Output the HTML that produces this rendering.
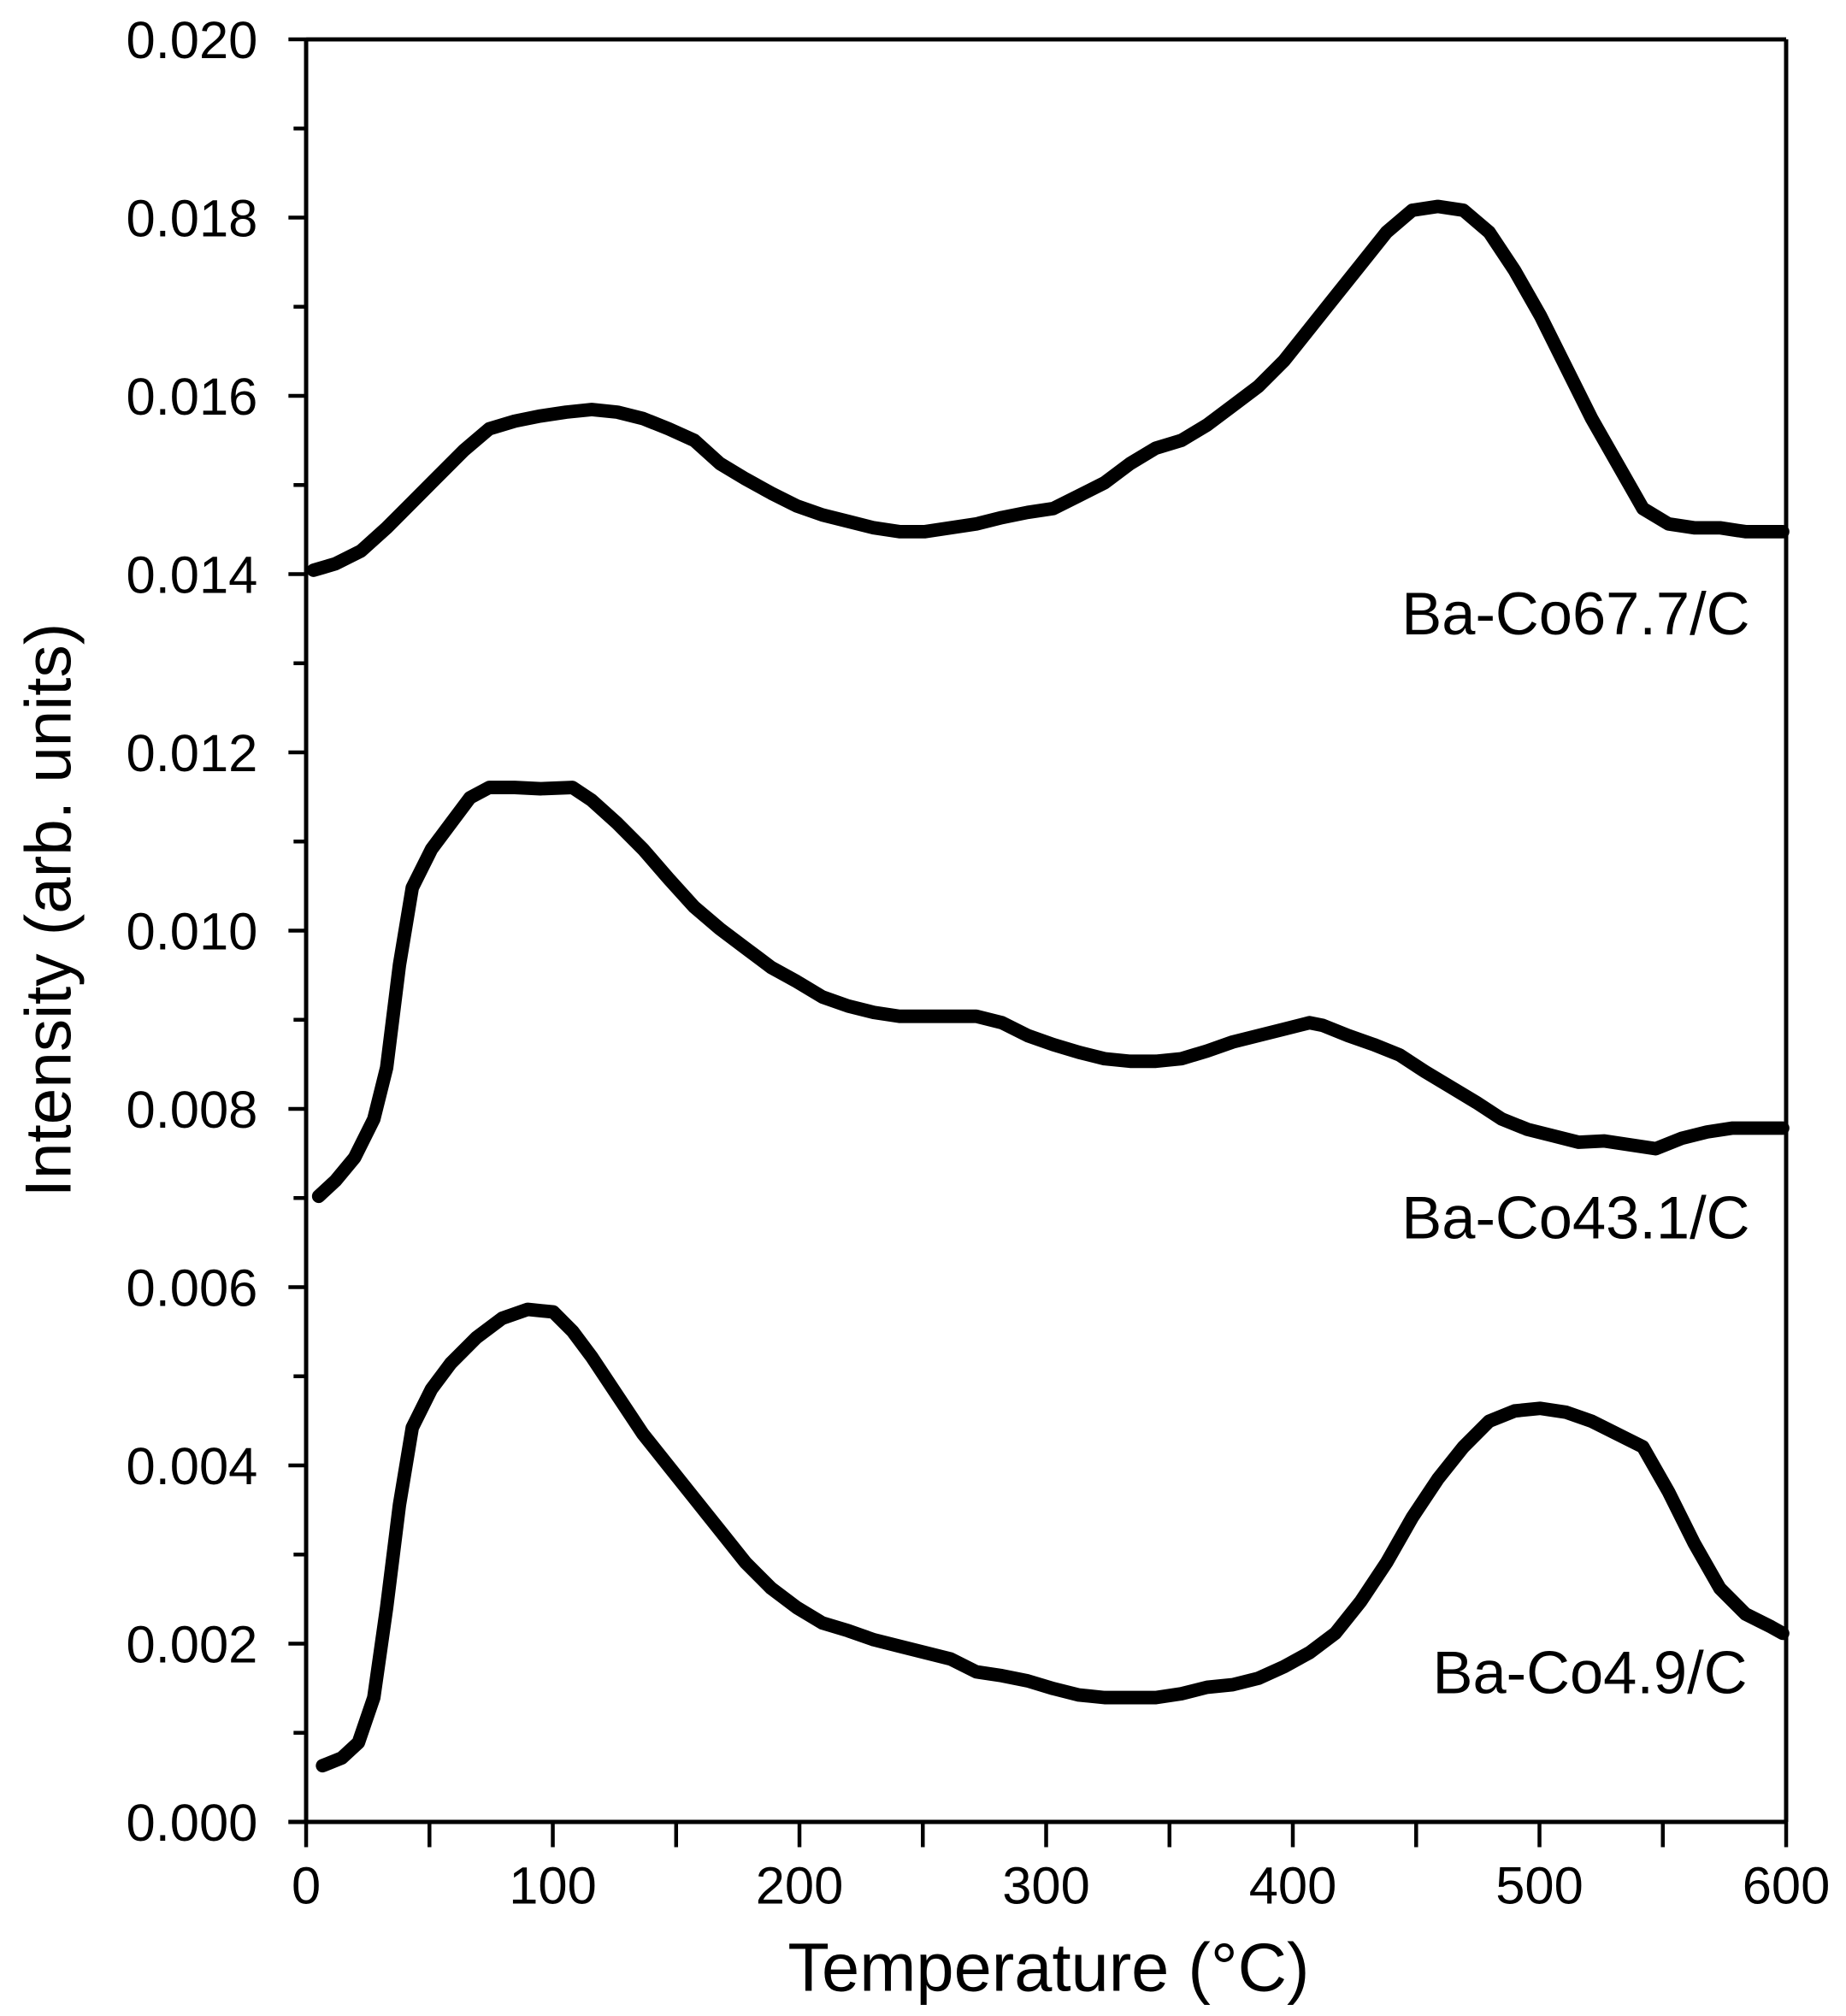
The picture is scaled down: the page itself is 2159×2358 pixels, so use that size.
<!DOCTYPE html>
<html><head><meta charset="utf-8"><style>html,body{margin:0;padding:0;background:#fff}svg{display:block}</style></head>
<body>
<svg xmlns="http://www.w3.org/2000/svg" width="2159" height="2358" viewBox="0 0 1440 1572.7" font-family="Liberation Sans, Arial, sans-serif">
<rect width="1440" height="1572.7" fill="#fff"/>
<g stroke="#000" stroke-width="3.3" fill="none">
<line x1="238.8" y1="30.7" x2="1393.3" y2="30.7"/>
<line x1="238.8" y1="30.7" x2="238.8" y2="1421.3"/>
<line x1="1393.3" y1="30.7" x2="1393.3" y2="1421.3"/>
<line x1="225" y1="1421.3" x2="1393.3" y2="1421.3"/>
</g>
<g stroke="#000" stroke-width="3" id="yt"></g>
<g stroke="#000" stroke-width="3" id="xt"></g>
<g font-size="41" text-anchor="end" id="yl"></g>
<g font-size="41" text-anchor="middle" id="xl"></g>
<text x="818" y="1553" font-size="53" text-anchor="middle">Temperature (°C)</text>
<text transform="translate(55,710) rotate(-90)" font-size="51" text-anchor="middle">Intensity (arb. units)</text>
<g transform="translate(1.6,0.6) scale(1,1.0028)">
<g fill="none" stroke="#000" stroke-width="10.5" stroke-linejoin="round" stroke-linecap="round">
<polyline points="243,443 260,438 280,428 300,410 320,390 340,370 360,350 380,333 400,327 420,323 440,320 460,318 480,320 500,325 520,333 540,342 560,360 580,372 600,383 620,393 640,400 660,405 680,410 700,413 720,413 740,410 760,407 780,402 800,398 820,395 840,385 860,375 880,360 900,348 920,342 940,330 960,315 980,300 1000,280 1020,255 1040,230 1060,205 1080,180 1100,163 1120,160 1140,163 1160,180 1180,210 1200,245 1220,285 1240,325 1260,360 1280,395 1300,407 1320,410 1340,410 1360,413 1389,413"/>
<polyline points="247,930 260,918 275,900 290,870 300,830 310,750 320,690 335,660 350,640 365,620 380,612 400,612 420,613 445,612 460,622 480,640 500,660 520,683 540,705 560,722 580,737 600,752 620,763 640,775 660,782 680,787 700,790 720,790 740,790 760,790 780,795 800,805 820,812 840,818 860,823 880,825 900,825 920,823 940,817 960,810 980,805 1000,800 1020,795 1030,797 1050,805 1070,812 1090,820 1110,833 1130,845 1150,857 1170,870 1190,878 1210,883 1230,888 1250,887 1270,890 1290,893 1310,885 1330,880 1350,877 1370,877 1389,877"/>
<polyline points="250,1373 265,1367 278,1355 290,1320 300,1250 310,1170 320,1110 335,1080 350,1060 370,1040 390,1025 410,1018 430,1020 445,1035 460,1055 480,1085 500,1115 520,1140 540,1165 560,1190 580,1215 600,1235 620,1250 640,1262 660,1268 680,1275 700,1280 720,1285 740,1290 760,1300 780,1303 800,1307 820,1313 840,1318 860,1320 880,1320 900,1320 920,1317 940,1312 960,1310 980,1305 1000,1296 1020,1285 1040,1270 1060,1245 1080,1215 1100,1180 1120,1150 1140,1125 1160,1105 1180,1097 1200,1095 1220,1098 1240,1105 1260,1115 1280,1125 1300,1160 1320,1200 1340,1235 1360,1255 1380,1265 1389,1270"/>
</g>
</g>
<g font-size="47" text-anchor="end">
<text x="1365" y="495">Ba-Co67.7/C</text>
<text x="1365" y="966">Ba-Co43.1/C</text>
<text x="1363" y="1321">Ba-Co4.9/C</text>
</g>
<script>
var ns="http://www.w3.org/2000/svg";
function el(p,t,a,txt){var e=document.createElementNS(ns,t);for(var k in a)e.setAttribute(k,a[k]);if(txt)e.textContent=txt;document.getElementById(p).appendChild(e);}
for(var i=0;i<=20;i++){var y=1421.3-i*69.53;el('yt','line',{x1:(i%2?229:225),y1:y,x2:238.8,y2:y});
if(i%2==0){el('yl','text',{x:201,y:y+14.7},(i*0.001).toFixed(3));}}
for(var j=0;j<=12;j++){var x=238.8+j*96.21;el('xt','line',{x1:x,y1:1421.3,x2:x,y2:1441});
if(j%2==0)el('xl','text',{x:x,y:1485},String(j*50));}
</script>
</svg>
</body></html>
